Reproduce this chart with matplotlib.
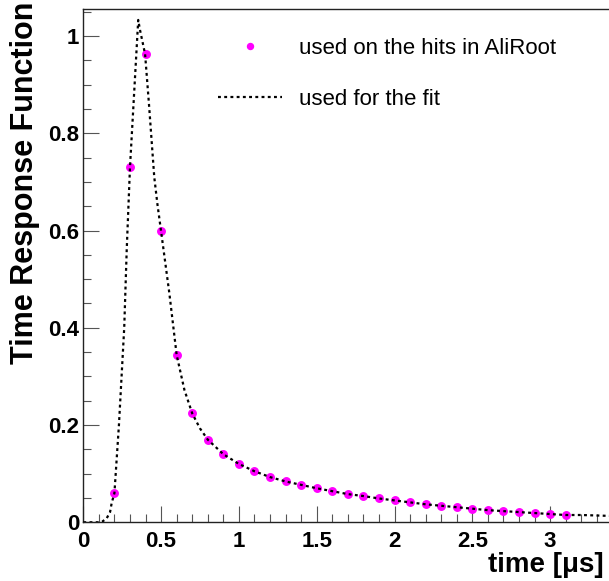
import matplotlib
matplotlib.use("Agg")
import matplotlib.pyplot as plt
from matplotlib.ticker import MultipleLocator

# --- data ---
hit_t = [0.2, 0.3, 0.4, 0.5, 0.6, 0.7, 0.8, 0.9, 1.0, 1.1, 1.2, 1.3, 1.4, 1.5,
         1.6, 1.7, 1.8, 1.9, 2.0, 2.1, 2.2, 2.3, 2.4, 2.5, 2.6, 2.7, 2.8, 2.9,
         3.0, 3.1]
hit_y = [0.060, 0.730, 0.963, 0.598, 0.344, 0.224, 0.170, 0.140, 0.120, 0.105,
         0.093, 0.084, 0.077, 0.070, 0.064, 0.058, 0.054, 0.049, 0.045, 0.041,
         0.037, 0.034, 0.031, 0.028, 0.025, 0.023, 0.021, 0.019, 0.017, 0.015]

fit_t = [0.0, 0.10, 0.12, 0.15, 0.172, 0.182, 0.2, 0.229, 0.263, 0.279, 0.3,
         0.353, 0.364, 0.397, 0.422, 0.456, 0.476, 0.5, 0.553, 0.6, 0.65, 0.7,
         0.75, 0.8, 0.9, 1.0, 1.1, 1.2, 1.3, 1.4, 1.5, 1.6, 1.7, 1.8, 1.9, 2.0,
         2.1, 2.2, 2.3, 2.4, 2.5, 2.6, 2.7, 2.8, 2.9, 3.0, 3.1, 3.2, 3.3, 3.4]
fit_y = [0.0, 0.0, 0.001, 0.008, 0.021, 0.039, 0.060, 0.200, 0.400, 0.560, 0.730,
         1.033, 1.013, 0.963, 0.860, 0.710, 0.655, 0.598, 0.471, 0.344, 0.272, 0.224,
         0.193, 0.170, 0.140, 0.120, 0.105, 0.093, 0.084, 0.077, 0.070, 0.064,
         0.058, 0.054, 0.049, 0.045, 0.041, 0.037, 0.034, 0.031, 0.028, 0.025,
         0.023, 0.021, 0.019, 0.017, 0.015, 0.015, 0.014, 0.013]

label_hits = "used on the hits in AliRoot"
label_fit = "used for the fit"
xlabel = "time [μs]"
ylabel = "Time Response Function"

plt.rcParams['font.family'] = ['Liberation Sans', 'DejaVu Sans']

W, H = 609, 581
fig = plt.figure(figsize=(W / 100, H / 100), dpi=100)
ax = fig.add_axes([83.3 / W, 1 - 522.3 / H, (W - 83.3) / W, (522.3 - 9) / H])

fit_line, = ax.plot(fit_t, fit_y, color='black', lw=1.6,
                    linestyle=(0, (1.3, 1.5)), label=label_fit, zorder=3)
hits, = ax.plot(hit_t, hit_y, linestyle='none', marker='o', ms=5.4,
                mfc='#ff00ff', mec='#ff00ff', label=label_hits, zorder=2)

ax.set_xlim(0, (W - 83.3) / 155.6)
ax.set_ylim(0, (522.3 - 9) / 486.3)

ax.spines['right'].set_visible(False)
for s in ['left', 'bottom', 'top']:
    ax.spines[s].set_linewidth(1.0)
    ax.spines[s].set_color('#222222')

ax.xaxis.set_major_locator(MultipleLocator(0.5))
ax.xaxis.set_minor_locator(MultipleLocator(0.1))
ax.yaxis.set_major_locator(MultipleLocator(0.2))
ax.yaxis.set_minor_locator(MultipleLocator(0.05))
ax.tick_params(which='both', direction='in', top=False, right=False,
               color='#555555', width=0.8)
ax.tick_params(which='major', length=11.5)
ax.tick_params(which='minor', length=5.8)
ax.tick_params(axis='x', which='major', labelsize=16, pad=6)
ax.tick_params(axis='y', which='major', labelsize=16, pad=3)
for lab in ax.get_xticklabels() + ax.get_yticklabels():
    lab.set_fontweight('bold')

def fmt(v, pos):
    return ('%g' % v)
ax.xaxis.set_major_formatter(plt.FuncFormatter(fmt))
ax.yaxis.set_major_formatter(plt.FuncFormatter(fmt))

fig.text(25 / W, 1 - 2 / H, ylabel, rotation=90, ha='center', va='top',
         fontsize=22, fontweight='bold')
fig.text(604 / W, 1 - 572 / H, xlabel, ha='right', va='baseline',
         fontsize=20, fontweight='bold')

leg = ax.legend(handles=[hits, fit_line], loc='upper left',
                bbox_to_anchor=(218 / W, 1 - 38 / H),
                bbox_transform=fig.transFigure, frameon=False,
                fontsize=16, handlelength=2.9, handletextpad=0.75,
                labelspacing=1.35, borderpad=0, borderaxespad=0,
                markerscale=0.8)

fig.savefig("out.png", dpi=100)
